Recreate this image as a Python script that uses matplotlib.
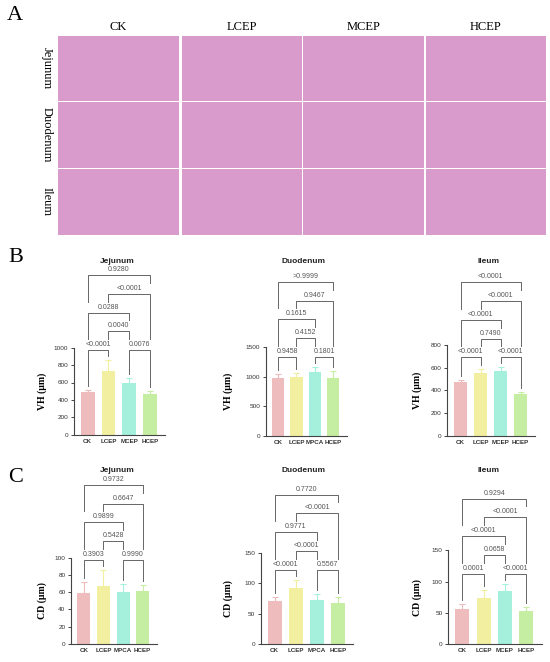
import numpy as np
import matplotlib
matplotlib.use('Agg')
import matplotlib.pyplot as plt

# grupos e segmentos
grupos = ['CK', 'LCEP', 'MCEP', 'HCEP']
grupos_mpca = ['CK', 'LCEP', 'MPCA', 'HCEP']
segmentos = ['Jejunum', 'Duodenum', 'Ileum']

# altura das vilosidades (VH, um) - media e erro
vh_jejunum = [490, 731, 590, 467]
vh_jejunum_err = [25, 126, 61, 38]
vh_duodenum = [976, 1003, 1083, 987]
vh_duodenum_err = [73, 68, 90, 118]
vh_ileum = [474, 551, 568, 365]
vh_ileum_err = [17, 35, 36, 18]

# profundidade das criptas (CD, um)
cd_jejunum = [59, 67, 60, 61]
cd_jejunum_err = [13, 19, 10, 7]
cd_duodenum = [71, 93, 72.5, 68]
cd_duodenum_err = [7, 13, 9.5, 10]
cd_ileum = [56, 74, 85, 53]
cd_ileum_err = [9, 13, 12, 7]

# comparacoes: pares e nivel do colchete
pares = [(0, 1), (2, 3), (1, 2), (0, 2), (1, 3), (0, 3)]
niveis = [0, 0, 1, 2, 3, 4]
p_vh_jejunum = ['<0.0001', '0.0076', '0.0040', '0.0288', '<0.0001', '0.9280']
p_vh_duodenum = ['0.9458', '0.1801', '0.4152', '0.1615', '0.9467', '>0.9999']
p_vh_ileum = ['<0.0001', '<0.0001', '0.7490', '<0.0001', '<0.0001', '<0.0001']
p_cd_jejunum = ['0.3903', '0.9990', '0.5428', '0.9899', '0.6647', '0.9732']
p_cd_duodenum = ['<0.0001', '0.5567', '<0.0001', '0.9771', '<0.0001', '0.7720']
p_cd_ileum = ['0.0001', '<0.0001', '0.0658', '<0.0001', '<0.0001', '0.9294']

cores = ['#EEBCBC', '#F2F0A0', '#A4F0DC', '#C6EEA2']

W, H = 550, 662
fig = plt.figure(figsize=(W / 100, H / 100), dpi=100)

serif = ['Liberation Serif', 'DejaVu Serif']
sans = ['Liberation Sans', 'DejaVu Sans']

# ---------- painel A (laminas histologicas, apenas blocos) ----------
col_x = [58.3, 181.7, 303.3, 425.7]
row_y = [35.7, 102.3, 169.0]
cel_w, cel_h = 120.5, 65.5
fig.text(7 / W, 1 - 16 / H, 'A', family=serif, fontsize=16, va='center')
for i, g in enumerate(grupos):
    fig.text((col_x[i] + cel_w / 2) / W, 1 - 27 / H, g, family=serif,
             fontsize=9, ha='center', va='center')
for r, seg in enumerate(segmentos):
    fig.text(47 / W, 1 - (row_y[r] + cel_h / 2) / H, seg, family=serif,
             fontsize=9, ha='center', va='center', rotation=270)
    for c in range(4):
        ax = fig.add_axes([col_x[c] / W, 1 - (row_y[r] + cel_h) / H, cel_w / W, cel_h / H])
        ax.set_facecolor('#D99BCB')
        ax.set_xticks([])
        ax.set_yticks([])
        for s in ax.spines.values():
            s.set_visible(False)

# ---------- paineis B e C ----------
paineis = [
    (vh_jejunum, vh_jejunum_err, p_vh_jejunum, grupos, 'VH (μm)', np.arange(0, 1001, 200), 74, 165, 434.7, 347.7),
    (vh_duodenum, vh_duodenum_err, p_vh_duodenum, grupos_mpca, 'VH (μm)', np.arange(0, 1501, 500), 265.7, 346.7, 436, 347.3),
    (vh_ileum, vh_ileum_err, p_vh_ileum, grupos, 'VH (μm)', np.arange(0, 801, 200), 447.3, 535, 435.7, 345),
    (cd_jejunum, cd_jejunum_err, p_cd_jejunum, grupos_mpca, 'CD (μm)', np.arange(0, 101, 20), 71, 156.7, 644, 557.7),
    (cd_duodenum, cd_duodenum_err, p_cd_duodenum, grupos_mpca, 'CD (μm)', np.arange(0, 151, 50), 260.7, 353.3, 644.3, 552.7),
    (cd_ileum, cd_ileum_err, p_cd_ileum, grupos, 'CD (μm)', np.arange(0, 151, 50), 448.3, 541.7, 644.3, 550.3),
]
titulo_x = [117, 303, 488]

fig.text(16 / W, 1 - 258 / H, 'B', family=serif, fontsize=16, ha='center', va='center')
fig.text(16 / W, 1 - 478 / H, 'C', family=serif, fontsize=16, ha='center', va='center')

for k, (vals, errs, pv, rotulos, ylab, yt, L, R, Y0, Yt) in enumerate(paineis):
    ax = fig.add_axes([L / W, 1 - Y0 / H, (R - L) / W, (Y0 - Yt) / H])
    topo = yt[-1]
    upp = topo / (Y0 - Yt)  # unidades de dados por pixel
    x = np.arange(4)
    ax.bar(x, vals, width=0.66, color=cores, zorder=2)
    for i in range(4):
        ax.errorbar(x[i], vals[i], yerr=[[0], [errs[i]]], color=cores[i],
                    capsize=2, elinewidth=0.8, capthick=0.8, zorder=1)
    ax.set_xlim(-0.66, 3.72)
    ax.set_ylim(0, topo)
    ax.set_yticks(yt)
    ax.set_yticklabels([str(v) for v in yt], family=sans, fontsize=4.6, color='#333333')
    ax.set_xticks(x)
    ax.set_xticklabels(rotulos, family=sans, fontsize=4.5, fontweight='bold', color='#333333')
    ax.tick_params(axis='x', length=0, pad=3)
    ax.tick_params(axis='y', length=2.5, width=0.7, pad=1.5, color='#444444')
    for s in ['top', 'right']:
        ax.spines[s].set_visible(False)
    for s in ['left', 'bottom']:
        ax.spines[s].set_linewidth(0.8)
        ax.spines[s].set_color('#444444')
    ax.set_ylabel(ylab, family=serif, fontsize=7, fontweight='bold', labelpad=3)
    ax.yaxis.set_label_coords(-(L - (47 if k % 3 == 0 else (233 if k % 3 == 1 else 421.7))) / (R - L) + 0.0, 0.5)

    # colchetes de significancia
    topos = [v + e for v, e in zip(vals, errs)]
    base = max(topos) + 10 * upp
    linhas = [base + n * 18.7 * upp for n in niveis]
    for b, ((i, j), n) in enumerate(zip(pares, niveis)):
        yl = linhas[b]
        pernas = []
        for xx in (i, j):
            abaixo = [linhas[c] for c, ((i2, j2), n2) in enumerate(zip(pares, niveis))
                      if n2 < n and i2 <= xx <= j2]
            if abaixo:
                pernas.append(max(abaixo) + 11 * upp)
            else:
                pernas.append(topos[xx] + 4 * upp)
        ax.plot([i, i, j, j], [pernas[0], yl, yl, pernas[1]], color='#666666',
                lw=0.7, clip_on=False, zorder=3)
        ax.text((i + j) / 2, yl + 2 * upp, pv[b], family=sans, fontsize=5,
                color='#555555', ha='center', va='bottom', clip_on=False)

    ytit = 262 if k < 3 else 470
    fig.text(titulo_x[k % 3] / W, 1 - ytit / H, segmentos[k % 3], family=sans,
             fontsize=6, fontweight='bold', color='#222222', ha='center', va='center')

fig.savefig('out.png', dpi=100)
